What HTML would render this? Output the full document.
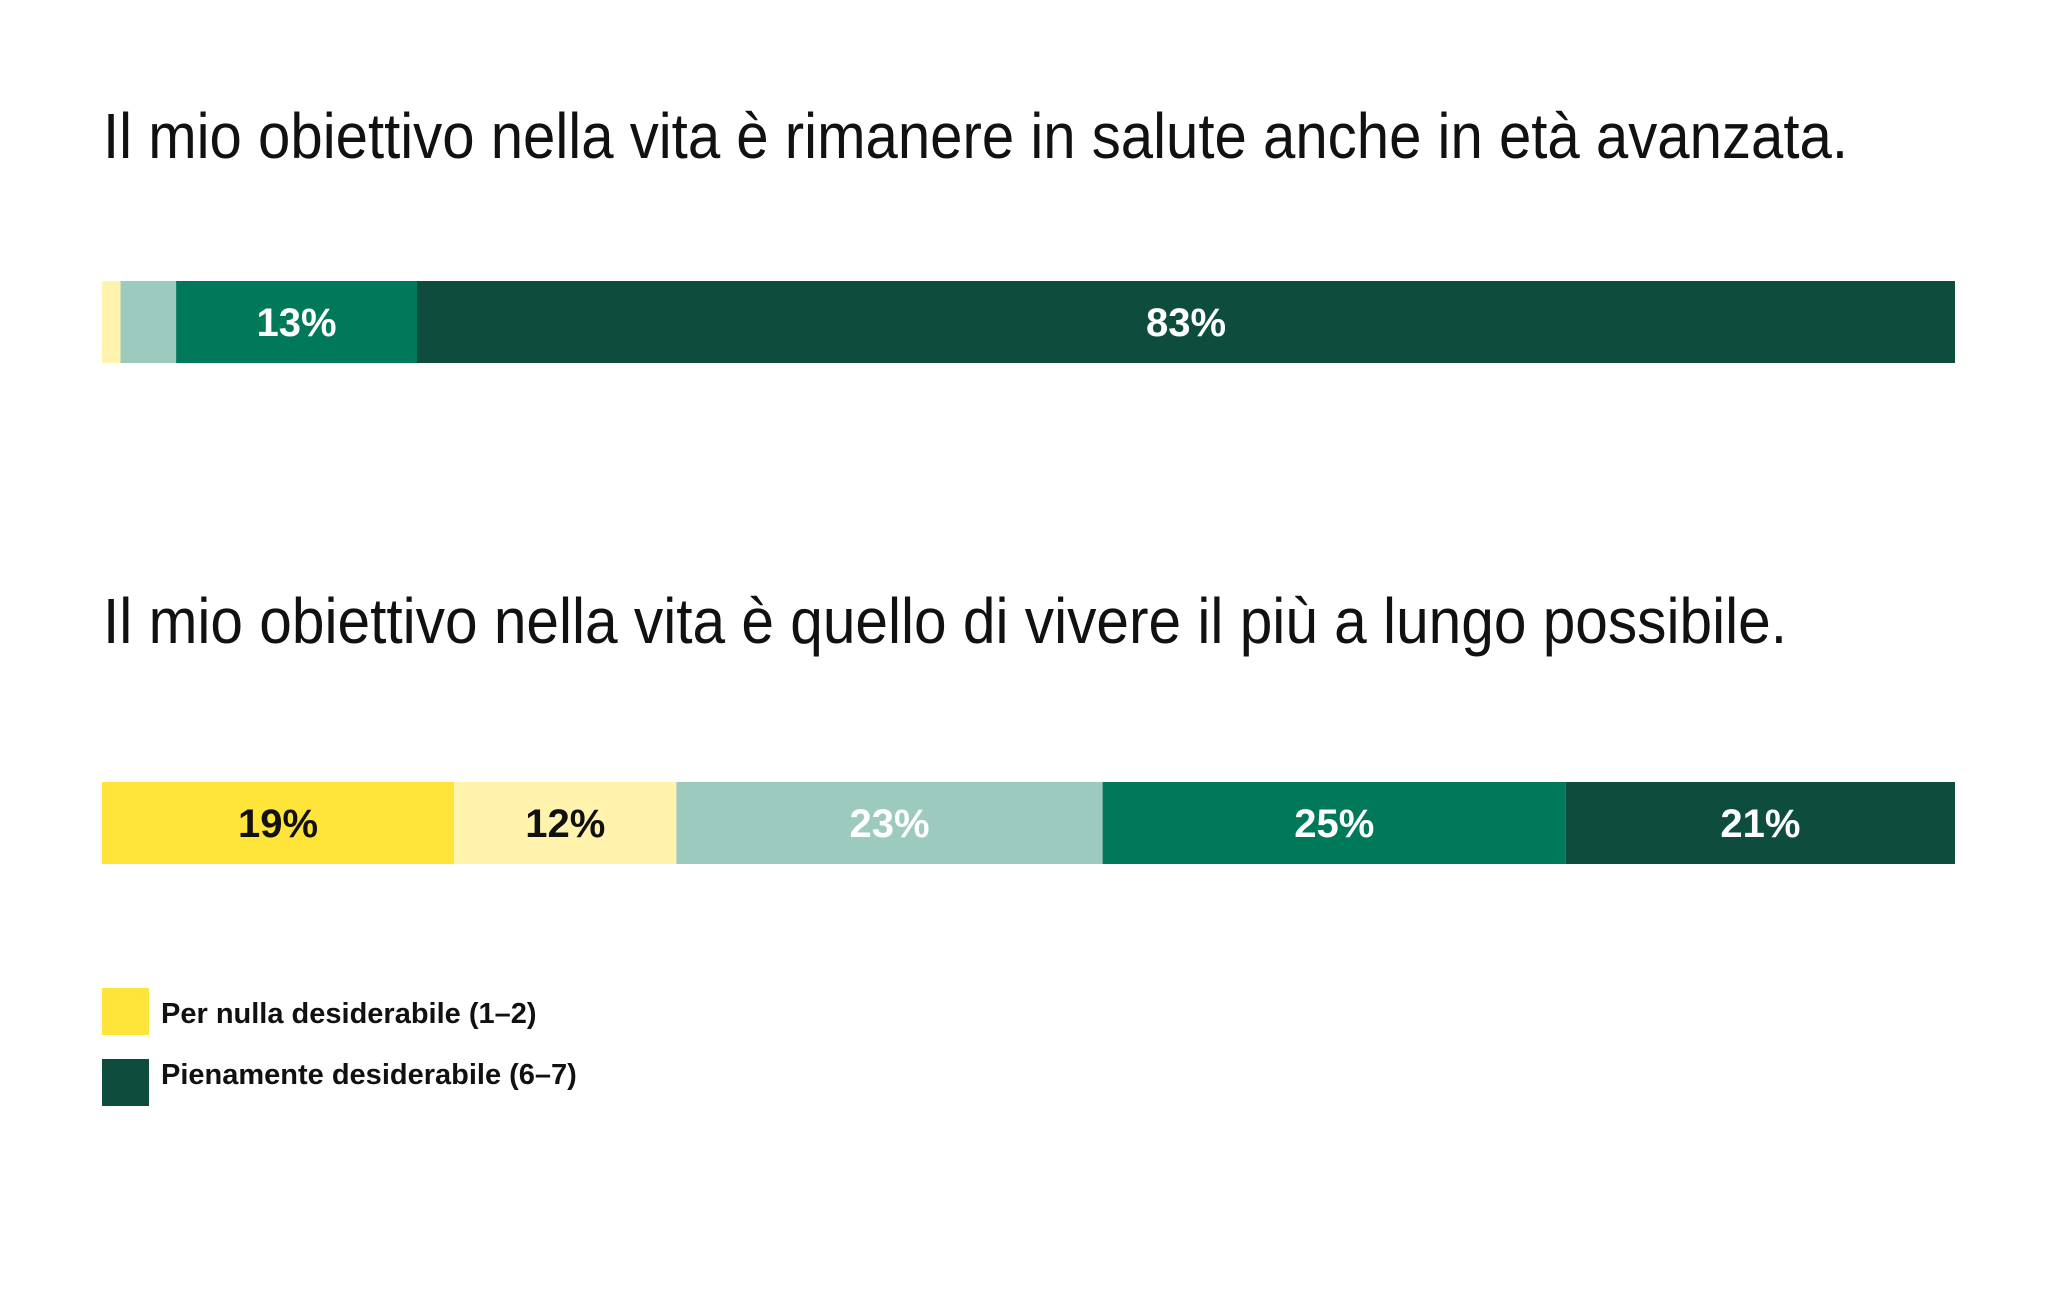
<!DOCTYPE html>
<html><head><meta charset="utf-8"><style>
html,body{margin:0;padding:0;background:#fff;}
svg{display:block;font-family:"Liberation Sans",sans-serif;}
</style></head><body>
<svg id="chart" width="2048" height="1315" viewBox="0 0 2048 1315">
<text x="103" y="158" font-size="64" fill="#111" textLength="1745" lengthAdjust="spacingAndGlyphs">Il mio obiettivo nella vita è rimanere in salute anche in età avanzata.</text>
<text x="103" y="643" font-size="64" fill="#111" textLength="1684" lengthAdjust="spacingAndGlyphs">Il mio obiettivo nella vita è quello di vivere il più a lungo possibile.</text>
<g id="bars"></g>
<g>
<rect x="102" y="988" width="47" height="47" fill="#FFE43A"/>
<text x="161" y="1023" font-size="29" font-weight="bold" fill="#111">Per nulla desiderabile (1–2)</text>
<rect x="102" y="1059" width="47" height="47" fill="#0E4D3E"/>
<text x="161" y="1084" font-size="29" font-weight="bold" fill="#111">Pienamente desiderabile (6–7)</text>
</g>
</svg>
<script>
const categories = ["rimanere-in-salute", "vivere-a-lungo"];
const seriesQ1 = [1, 3, 13, 83];
const seriesQ2 = [19, 12, 23, 25, 21];
const labelsQ1 = ["", "", "13%", "83%"];
const labelsQ2 = ["19%", "12%", "23%", "25%", "21%"];
const colorsQ1 = ["#FFF3AD", "#9CCABF", "#00785A", "#0E4D3E"];
const colorsQ2 = ["#FFE43A", "#FFF3AD", "#9CCABF", "#00785A", "#0E4D3E"];
const textQ1 = ["#111", "#111", "#fff", "#fff"];
const textQ2 = ["#111", "#111", "#fff", "#fff", "#fff"];

const X0 = 102, X1 = 1955;
function xScale(v){ return X0 + (X1 - X0) * v / 100; }
const NS = "http://www.w3.org/2000/svg";
const g = document.getElementById("bars");
function drawBar(vals, labels, colors, tcols, y, h, cat){
  let cum = 0;
  vals.forEach((v, i) => {
    const xa = xScale(cum), xb = xScale(cum + v);
    const r = document.createElementNS(NS, "rect");
    r.setAttribute("x", xa); r.setAttribute("y", y);
    r.setAttribute("width", Math.max(0, xb - xa)); r.setAttribute("height", h);
    r.setAttribute("fill", colors[i]);
    
    
    g.appendChild(r);
    if (labels[i]) {
      const t = document.createElementNS(NS, "text");
      t.setAttribute("x", (xa + xb) / 2); t.setAttribute("y", y + h / 2 + 14);
      t.setAttribute("text-anchor", "middle"); t.setAttribute("font-size", "40");
      t.setAttribute("font-weight", "bold"); t.setAttribute("fill", tcols[i]);
      t.textContent = labels[i];
      
      
      g.appendChild(t);
    }
    cum += v;
  });
}
drawBar(seriesQ1, labelsQ1, colorsQ1, textQ1, 281, 82, categories[0]);
drawBar(seriesQ2, labelsQ2, colorsQ2, textQ2, 782, 82, categories[1]);
</script>
</body></html>
